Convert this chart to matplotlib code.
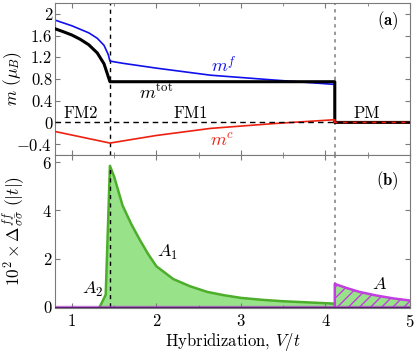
import numpy as np
import matplotlib
matplotlib.use('Agg')
import matplotlib.pyplot as plt

plt.rcParams['font.family'] = 'serif'
plt.rcParams['font.serif'] = ['cmr10']
plt.rcParams['mathtext.fontset'] = 'cm'
plt.rcParams['axes.formatter.use_mathtext'] = True
plt.rcParams['font.size'] = 12

# phase boundaries
V_FM2 = 1.45
V_PM = 4.11

# panel (a): magnetizations
v_tot = [0.81, 0.9, 1.0, 1.1, 1.2, 1.3, 1.38, 1.45, 2.0, 3.0, 4.11, 4.11, 5.0]
m_tot = [1.72, 1.67, 1.61, 1.53, 1.43, 1.28, 1.08, 0.75, 0.75, 0.75, 0.75, 0.0, 0.0]

v_f = [0.81, 1.0, 1.2, 1.3, 1.38, 1.43, 1.45, 1.6, 2.0, 2.64, 3.4, 4.11, 4.11, 5.0]
m_f = [1.88, 1.78, 1.65, 1.55, 1.42, 1.25, 1.13, 1.09, 1.0, 0.87, 0.78, 0.70, 0.0, 0.0]

v_c = [0.81, 1.45, 2.0, 2.64, 3.4, 4.11, 4.11, 5.0]
m_c = [-0.17, -0.38, -0.24, -0.11, -0.02, 0.05, 0.0, 0.0]

# panel (b): gap amplitudes
v_A12 = [1.33, 1.40, 1.45, 1.50, 1.60, 1.70, 1.80, 1.90, 2.00, 2.20, 2.40, 2.60, 2.80,
         3.00, 3.25, 3.50, 3.75, 4.00, 4.11]
d_A12 = [0.0, 0.5, 5.85, 5.4, 4.2, 3.45, 2.8, 2.2, 1.68, 1.15, 0.85, 0.62, 0.48,
         0.37, 0.29, 0.23, 0.19, 0.15, 0.13]

v_A = [4.11, 4.11, 4.25, 4.4, 4.6, 4.8, 5.0]
d_A = [0.0, 0.95, 0.78, 0.62, 0.47, 0.35, 0.26]

green_line = '#4cae2a'
green_fill = '#98e28a'
purple = '#c23ee0'
frame = '#7a7a7a'

fig = plt.figure(figsize=(4.15, 3.56), dpi=100)
ax1 = fig.add_axes([0.1325, 0.5646, 0.8555, 0.427])
ax2 = fig.add_axes([0.1325, 0.1348, 0.8555, 0.4298])

for ax in (ax1, ax2):
    ax.set_xlim(0.8, 5.0)
    ax.tick_params(direction='in', which='both', top=True, right=True, color=frame,
                   labelsize=12)
    ax.tick_params(axis='y', pad=2)
    ax.set_xticks(np.arange(1, 5.01, 0.5), minor=True)
    for s in ax.spines.values():
        s.set_color(frame)
    ax.axvline(V_PM, color='#888888', ls=(0, (2, 2.5)), lw=1.2, zorder=1)

# (a)
ax1.axhline(0, color='k', ls=(0, (4, 3)), lw=1.0, zorder=5)
ax1.axvline(V_FM2, color='k', ls=(0, (3, 3)), lw=1.0, zorder=1)
ax1.plot(v_f, m_f, color='#1010ee', lw=1.2, zorder=2)
ax1.plot(v_c, m_c, color='#ee2010', lw=1.2, zorder=4)
ax1.plot(v_tot, m_tot, color='k', lw=2.2, zorder=3)
ax1.set_ylim(-0.6, 2.2)
ax1.set_yticks([-0.4, 0, 0.4, 0.8, 1.2, 1.6, 2])
ax1.set_yticklabels(['$-0.4$', '0', '0.4', '0.8', '1.2', '1.6', '2'])
ax1.set_xticks([1, 2, 3, 4, 5])
ax1.set_xticklabels([])
ax1.set_ylabel(r'$m\ (\mu_B)$', fontsize=12.5)
ax1.yaxis.set_label_coords(-0.088, 0.5)
ax1.text(1.1, 0.08, 'FM2', ha='center')
ax1.text(2.4, 0.08, 'FM1', ha='center')
ax1.text(4.49, 0.08, 'PM', ha='center')
ax1.text(2.0, 0.42, r'$m^{\mathrm{tot}}$', ha='center', fontsize=13)
ax1.text(2.8, 0.93, r'$m^{f}$', color='#1010ee', ha='center', fontsize=13)
ax1.text(2.78, -0.45, r'$m^{c}$', color='#ee2010', ha='center', fontsize=13)
ax1.text(4.86, 1.8, r'$\mathbf{(a)}$', ha='right')

# (b)
ax2.fill_between(v_A12, d_A12, 0, color=green_fill, lw=0, zorder=1)
ax2.plot(v_A12, d_A12, color=green_line, lw=1.8, zorder=3)
ax2.plot([V_FM2, V_FM2], [0, 5.85], color='k', ls=(0, (3, 3)), lw=1.0, zorder=4)
ax2.fill_between(v_A, d_A, 0, facecolor=green_fill, edgecolor=purple, hatch='///',
                 lw=0, zorder=2)
ax2.plot(v_A, d_A, color=purple, lw=1.8, zorder=3)
ax2.axhline(0, color=purple, lw=2.5, alpha=0.6, zorder=4)
ax2.axhline(0, color='#5a1f72', lw=1.0, zorder=5)
ax2.set_ylim(-0.05, 6.3)
ax2.set_yticks([0, 2, 4, 6])
ax2.set_xticks([1, 2, 3, 4, 5])
ax2.set_ylabel(r'$10^2\times\Delta^{ff}_{\sigma\bar{\sigma}}\ (|t|)$', fontsize=12.5)
ax2.yaxis.set_label_coords(-0.08, 0.5)
ax2.set_xlabel(r'Hybridization, $V/t$', labelpad=1)
ax2.text(2.01, 2.08, r'$A_1$', fontsize=13)
ax2.text(1.12, 0.52, r'$A_2$', fontsize=13)
ax2.text(4.55, 0.72, r'$A$', fontsize=13)
ax2.text(4.86, 5.05, r'$\mathbf{(b)}$', ha='right')

fig.savefig('out.png', dpi=100)
